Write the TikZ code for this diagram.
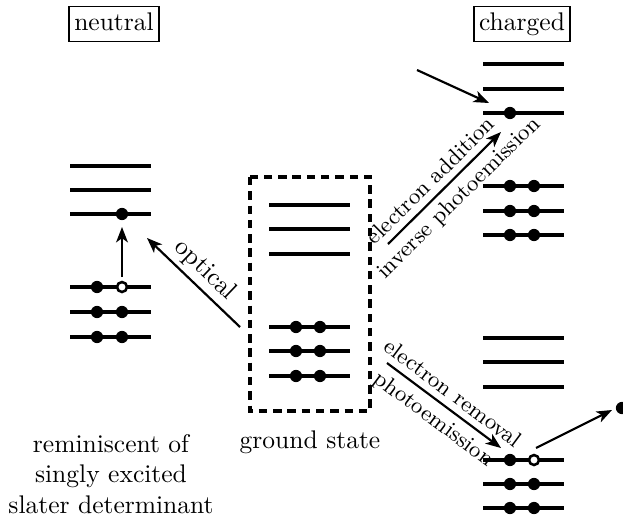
\documentclass[tikz,border=0pt]{standalone}
\usetikzlibrary{arrows.meta}
\begin{document}
\begin{tikzpicture}[x=0.392pt, y=-0.392pt,
  lvl/.style={line width=1.25pt},
  hole/.style={fill=white, draw=black, line width=1pt},
  arr/.style={line width=0.85pt, -{Stealth[length=6pt,width=4.6pt,inset=1.6pt]}},
  tagbox/.style={draw, line width=0.6pt, inner xsep=2pt, inner ysep=2pt, text height=7.4pt, text depth=2.4pt},
  lab/.style={inner sep=1.8pt},
  smalllab/.style={inner sep=2.6pt, font=\fontsize{8.8pt}{10pt}\selectfont}]
\useasboundingbox (0,0) rectangle (623,521);
\def\dr{2.4pt}
% titles
\node[tagbox] (neutral) at (114,24) {neutral};
\node[tagbox] (charged) at (522,24) {charged};
% neutral column
\foreach \y in {166,190,214,287,312,337} \draw[lvl] (70,\y) -- (151,\y);
\fill (122,214) circle[radius=\dr];
\fill (97,287) circle[radius=\dr];
\draw[hole] (122,287) circle[radius=1.95pt];
\foreach \y in {312,337} {\fill (97,\y) circle[radius=\dr]; \fill (122,\y) circle[radius=\dr];}
% ground state
\draw[line width=1.2pt, dash pattern=on 3.3pt off 2.3pt] (250,177) rectangle (370,411);
\foreach \y in {205,229,254,327,351,376} \draw[lvl] (269,\y) -- (350,\y);
\foreach \y in {327,351,376} {\fill (296,\y) circle[radius=\dr]; \fill (320,\y) circle[radius=\dr];}
% charged upper
\foreach \y in {64,89,113,186,211,235} \draw[lvl] (483,\y) -- (564,\y);
\fill (510,113) circle[radius=\dr];
\foreach \y in {186,211,235} {\fill (510,\y) circle[radius=\dr]; \fill (534,\y) circle[radius=\dr];}
% charged lower
\foreach \y in {338,362,387,460,484,508} \draw[lvl] (483,\y) -- (564,\y);
\fill (510,460) circle[radius=\dr];
\draw[hole] (534,460) circle[radius=1.95pt];
\foreach \y in {484,508} {\fill (510,\y) circle[radius=\dr]; \fill (534,\y) circle[radius=\dr];}
\fill (622,408) circle[radius=\dr];
% coordinates
\coordinate (nh) at (122,277); \coordinate (ne) at (122,227);
\coordinate (op1) at (240,327); \coordinate (op2) at (147,238);
\coordinate (ad1) at (388,244); \coordinate (ad2) at (501,132);
\coordinate (in1) at (417,70);  \coordinate (in2) at (489,103);
\coordinate (rm1) at (387,363); \coordinate (rm2) at (501,448);
\coordinate (ou1) at (536,448); \coordinate (ou2) at (612,410);
% arrows
\draw[arr] (nh) -- (ne);
\draw[arr] (op1) -- node[lab, sloped, above] (optl) {optical} (op2);
\draw[arr] (ad1) -- node[smalllab, sloped, above, pos=0.47] (adl) {electron addition}
                    node[smalllab, sloped, below, pos=0.52] (ipl) {inverse photoemission} (ad2);
\draw[arr] (in1) -- (in2);
\draw[arr] (rm1) -- node[smalllab, sloped, above] (rml) {electron removal}
                    node[smalllab, sloped, below] (pel) {photoemission} (rm2);
\draw[arr] (ou1) -- (ou2);
% captions
\node (gs) at (310,442) {ground state};
\node[align=center] (rem) at (111,474) {reminiscent of\\singly excited\\slater determinant};
\end{tikzpicture}
\end{document}
